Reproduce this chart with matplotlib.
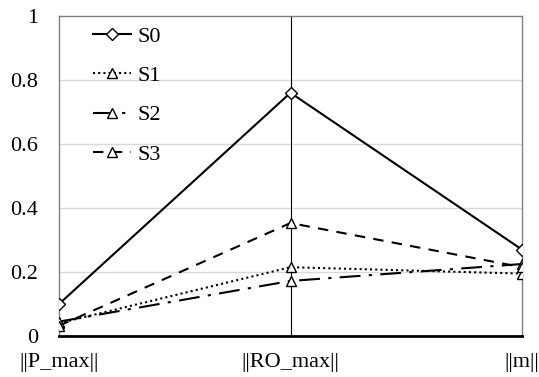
import numpy as np
import matplotlib.pyplot as plt

plt.rcParams['font.family'] = ['Liberation Serif', 'DejaVu Serif']

# datos
cats = ['||P_max||', '||RO_max||', '||m||']
s0 = [0.10, 0.76, 0.27]
s1 = [0.04, 0.215, 0.195]
s2 = [0.045, 0.172, 0.225]
s3 = [0.032, 0.353, 0.215]
names = ['S0', 'S1', 'S2', 'S3']

x = np.arange(len(cats))

fig = plt.figure(figsize=(5.39, 3.77), dpi=100)
ax = fig.add_axes([59 / 539, 41 / 377, 463 / 539, 320 / 377])

for yv in [0.2, 0.4, 0.6, 0.8]:
    ax.axhline(yv, color='#d9d9d9', lw=1, zorder=0)
ax.axvline(1, color='black', lw=0.8, zorder=1)

ax.plot(x, s0, color='black', lw=1.5, marker='D', ms=6.5, mfc='white',
        mec='black', mew=1, label=names[0], zorder=3)
ax.plot(x, s1, color='black', lw=1.5, ls=(0, (1, 1.5)), marker='^', ms=6.5,
        mfc='white', mec='black', mew=1, label=names[1], zorder=3)
ax.plot(x, s2, color='black', lw=1.5, ls=(0, (10, 4, 1.5, 4)), marker='^',
        ms=6.5, mfc='white', mec='black', mew=1, label=names[2], zorder=3)
ax.plot(x, s3, color='black', lw=1.5, ls=(0, (5, 4)), marker='^', ms=6.5,
        mfc='white', mec='black', mew=1, label=names[3], zorder=3)

ax.set_xlim(0, 2)
ax.set_ylim(0, 1)
ax.set_xticks(x)
ax.set_xticklabels(cats)
ax.set_yticks([0, 0.2, 0.4, 0.6, 0.8, 1])
ax.set_yticklabels(['0', '0.2', '0.4', '0.6', '0.8', '1'])
ax.tick_params(length=0, labelsize=16)
ax.tick_params(axis='y', pad=15)
ax.tick_params(axis='x', pad=12)

for side in ['left', 'right', 'top']:
    ax.spines[side].set_color('#808080')
    ax.spines[side].set_linewidth(1)
ax.spines['bottom'].set_color('black')
ax.spines['bottom'].set_linewidth(2)

leg = ax.legend(loc='upper left', bbox_to_anchor=(0.03, 1.03), frameon=False,
                fontsize=16, handlelength=1.7, handletextpad=0.3,
                labelspacing=0.84)

plt.savefig('out.png', dpi=100)
